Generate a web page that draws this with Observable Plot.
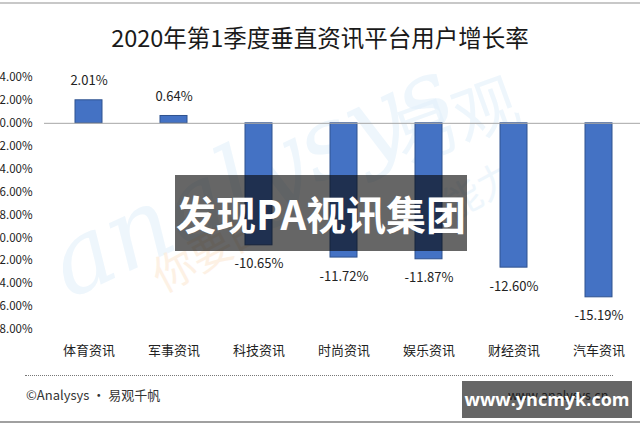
<!DOCTYPE html>
<html>
<head>
<meta charset="utf-8">
<script src="https://cdn.jsdelivr.net/npm/d3@7"></script>
<script src="https://cdn.jsdelivr.net/npm/@observablehq/plot@0.6"></script>
<style>
  html, body { margin: 0; padding: 0; background: #fff; }
  #wrap { position: relative; width: 640px; height: 427px; overflow: hidden; background: #fff;
          font-family: "Noto Sans CJK SC", "Noto Sans", sans-serif; }
  .abs { position: absolute; }
  #topline { left: 0; top: 2px; width: 640px; height: 2px; background: #c8c8c8; }
  #botline { left: 0; top: 421px; width: 640px; height: 2px; background: #a0a0a0; }
  #title { left: 0; top: 20px; width: 640px; text-align: center; font-size: 23.5px; color: #1a1a1a; line-height: 34px; z-index: 2; }
  #chart { left: 0; top: 60px; z-index: 1; }
  #chart svg { background: transparent; overflow: visible; max-width: none; }
  #dots { left: 25px; top: 375px; width: 588px; border-top: 1px dotted #777; }
  #foot { left: 26px; top: 385px; font-size: 13px; color: #333; line-height: 20px; }
  #site { left: 508px; top: 385px; font-size: 12.5px; color: #444; line-height: 20px; }
  .wm { color: #e3f1fb; white-space: nowrap; z-index: 0; }
  .box { background: rgba(8,8,8,0.62); color: #fff; font-weight: bold; text-align: center; z-index: 5; }
  #box1 { left: 175px; top: 175px; width: 292px; height: 76px; font-size: 40px; line-height: 76px; }
  #box2 { left: 462px; top: 381px; width: 170px; height: 37px; font-size: 18px; line-height: 37px; font-family: "Open Sans", "DejaVu Sans", sans-serif; }
</style>
</head>
<body>
<div id="wrap">
  <div id="topline" class="abs"></div>
  <div id="title" class="abs">2020年第1季度垂直资讯平台用户增长率</div>
  <div class="abs wm" style="left:30px; top:215px; font-size:100px; font-family:'DejaVu Serif', serif; font-style:italic; transform:rotate(-25deg); transform-origin:left top; opacity:0.6;">analysys</div>
  <div class="abs wm" style="left:390px; top:70px; font-size:64px; transform:rotate(-20deg); opacity:0.6;">易观</div>
  <div class="abs wm" style="left:140px; top:250px; font-size:42px; color:#fdeede; transform:rotate(-28deg); transform-origin:left top; opacity:0.8;">你要的</div>
  <div class="abs wm" style="left:440px; top:160px; font-size:38px; transform:rotate(-28deg); opacity:0.6;">能力</div>
  <div id="chart" class="abs"></div>
  <div id="dots" class="abs"></div>
  <div id="foot" class="abs">©Analysys · 易观千帆</div>
  <div id="site" class="abs">www.analysys.cn</div>
  <div id="box1" class="abs box">发现PA视讯集团</div>
  <div id="box2" class="abs box">www.yncmyk.com</div>
  <div id="botline" class="abs"></div>
</div>
<script>
const categories = ["体育资讯", "军事资讯", "科技资讯", "时尚资讯", "娱乐资讯", "财经资讯", "汽车资讯"];
const growthRates = [2.01, 0.64, -10.65, -11.72, -11.87, -12.60, -15.19];
const yTicks = [4, 2, 0, -2, -4, -6, -8, -10, -12, -14, -16, -18];

const data = categories.map((c, i) => ({category: c, value: growthRates[i]}));
const fmt = v => v.toFixed(2) + "%";

const chart = Plot.plot({
  width: 640,
  height: 300,
  marginLeft: 44,
  marginRight: -3,
  marginTop: 17,
  marginBottom: 31,
  style: {fontFamily: "'Noto Sans CJK SC', sans-serif", background: "transparent", overflow: "visible"},
  x: {domain: categories, paddingInner: 0.68, paddingOuter: 0.34, label: null},
  y: {domain: [-18, 4], label: null},
  marks: [
    Plot.axisY({ticks: yTicks, tickFormat: fmt, tickSize: 0, tickPadding: 12, fontSize: 11.5, fill: "#222", label: null}),
    Plot.axisX({tickSize: 0, tickPadding: 16, fontSize: 13, fill: "#222", label: null}),
    Plot.barY(data, {x: "category", y: "value", fill: "#4472C4", stroke: "#2F528F", strokeWidth: 1}),
    Plot.ruleY([0], {stroke: "#a6a6a6", strokeWidth: 1}),
    Plot.text(data.filter(d => d.value >= 0), {x: "category", y: "value", text: d => fmt(d.value), dy: -19, fontSize: 13, fill: "#222"}),
    Plot.text(data.filter(d => d.value < 0), {x: "category", y: "value", text: d => fmt(d.value), dy: 19, fontSize: 13, fill: "#222"})
  ]
});
document.getElementById("chart").appendChild(chart);
</script>
</body>
</html>
